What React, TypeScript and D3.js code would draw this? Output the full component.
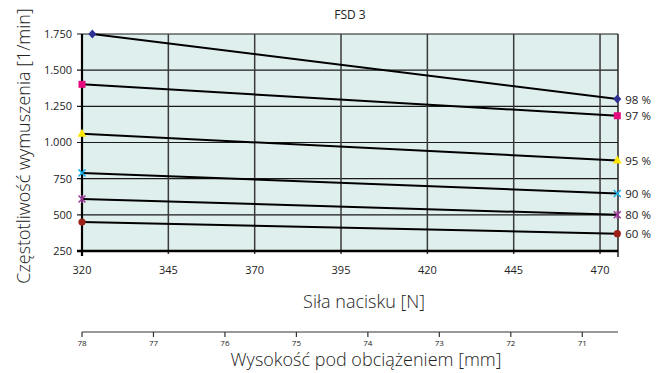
import React from "react";
import * as d3 from "d3";

const title = "FSD 3";
const forceTicks = [320, 345, 370, 395, 420, 445, 470];
const freqTicks = [250, 500, 750, 1000, 1250, 1500, 1750];
const heightTicks = [78, 77, 76, 75, 74, 73, 72, 71];

const seriesNames = ["98 %", "97 %", "95 %", "90 %", "80 %", "60 %"];
const seriesForces = [
  [323, 475],
  [320, 475],
  [320, 475],
  [320, 475],
  [320, 475],
  [320, 475],
];
const seriesValues = [
  [1750, 1300],
  [1402, 1185],
  [1060, 876],
  [790, 648],
  [610, 500],
  [450, 370],
];
const seriesColors = ["#2e3192", "#e5087e", "#ffe600", "#1ab0e8", "#9b3a98", "#9b2118"];
const seriesMarkers = ["diamond", "square", "triangle", "x", "asterisk", "circle"];

const FONT = "'Open Sans', 'Noto Sans', sans-serif";

function Marker({ kind, x, y, color }: { kind: string; x: number; y: number; color: string }) {
  if (kind === "diamond") {
    const p = d3.path();
    p.moveTo(x, y - 4.5); p.lineTo(x + 4, y); p.lineTo(x, y + 4.5); p.lineTo(x - 4, y); p.closePath();
    return <path d={p.toString()} fill={color} />;
  }
  if (kind === "square") return <rect x={x - 3.5} y={y - 3.5} width={7} height={7} fill={color} />;
  if (kind === "triangle") {
    const p = d3.path();
    p.moveTo(x, y - 5); p.lineTo(x + 4.5, y + 3); p.lineTo(x - 4.5, y + 3); p.closePath();
    return <path d={p.toString()} fill={color} />;
  }
  if (kind === "x") {
    return (
      <g stroke={color} strokeWidth={1.5}>
        <line x1={x - 3.5} y1={y - 3.5} x2={x + 3.5} y2={y + 3.5} />
        <line x1={x - 3.5} y1={y + 3.5} x2={x + 3.5} y2={y - 3.5} />
      </g>
    );
  }
  if (kind === "asterisk") {
    return (
      <g stroke={color} strokeWidth={1.5}>
        <line x1={x - 3.5} y1={y - 3.5} x2={x + 3.5} y2={y + 3.5} />
        <line x1={x - 3.5} y1={y + 3.5} x2={x + 3.5} y2={y - 3.5} />
        <line x1={x} y1={y - 4} x2={x} y2={y + 4} />
      </g>
    );
  }
  return <circle cx={x} cy={y} r={3.6} fill={color} />;
}

export default function App() {
  const W = 669, H = 373;
  const left = 82, right = 618, top = 34, bottom = 251;
  const x = d3.scaleLinear().domain([320, 475.2]).range([left, right]);
  const y = d3.scaleLinear().domain([250, 1750]).range([bottom, top]);
  const h = d3.scaleLinear().domain([78, 70.5]).range([left, right]);
  const fmt = (v: number) => (v >= 1000 ? d3.format(",")(v).replace(",", ".") : String(v));
  const line = d3.line<[number, number]>().x((d) => x(d[0])).y((d) => y(d[1]));
  const axisY2 = 332;

  return (
    <svg width={W} height={H} style={{ position: "absolute", left: 0, top: 0, fontFamily: FONT }}>
      <rect x={0} y={0} width={W} height={H} fill="#fff" />
      <text x={350} y={19} fontSize={12} textAnchor="middle" fill="#222">{title}</text>
      <rect x={left} y={top} width={right - left} height={bottom - top} fill="#dfefed" />
      {freqTicks.map((t) => (
        <line key={"hg" + t} x1={left - 5} x2={right} y1={y(t)} y2={y(t)} stroke="#1a1a1a" strokeWidth={1.2} />
      ))}
      {forceTicks.slice(1).map((t) => (
        <line key={"vg" + t} x1={x(t)} x2={x(t)} y1={top} y2={bottom + 3} stroke="#3a3a3a" strokeWidth={1.5} />
      ))}
      <line x1={right} x2={right} y1={top} y2={bottom + 6} stroke="#222" strokeWidth={1.5} />
      <line x1={left} x2={left} y1={top} y2={bottom + 5} stroke="#000" strokeWidth={2.2} />
      <line x1={left - 5} x2={right} y1={bottom} y2={bottom} stroke="#000" strokeWidth={2.5} />
      {freqTicks.map((t) => (
        <text key={"yl" + t} x={left - 10} y={y(t)} dy="0.35em" fontSize={11} textAnchor="end" fill="#222">
          {fmt(t)}
        </text>
      ))}
      {forceTicks.map((t) => (
        <text key={"xl" + t} x={x(t)} y={274} fontSize={11} textAnchor="middle" fill="#222">{t}</text>
      ))}
      {seriesValues.map((vals, i) => {
        const pts = seriesForces[i].map((f, j) => [f, vals[j]] as [number, number]);
        return (
          <g key={"s" + i}>
            <path d={line(pts) || ""} fill="none" stroke="#000" strokeWidth={2} />
            {pts.map((p, j) => (
              <Marker key={j} kind={seriesMarkers[i]} x={x(p[0])} y={y(p[1])} color={seriesColors[i]} />
            ))}
            <text x={x(pts[1][0]) + 8} y={y(pts[1][1])} dy="0.4em" fontSize={11.5} fill="#222">
              {seriesNames[i]}
            </text>
          </g>
        );
      })}
      <text x={364} y={308} fontSize={18} textAnchor="middle" fill="#222" fontWeight={300}>Siła nacisku [N]</text>
      <text transform={`translate(30,${146}) rotate(-90)`} fontSize={18} textAnchor="middle" fill="#222" fontWeight={300}>
        Częstotliwość wymuszenia [1/min]
      </text>
      <line x1={left} x2={right} y1={axisY2} y2={axisY2} stroke="#333" strokeWidth={1} />
      {heightTicks.map((t) => (
        <g key={"ht" + t}>
          <line x1={h(t)} x2={h(t)} y1={axisY2} y2={axisY2 + 5} stroke="#333" strokeWidth={1.2} />
          <text x={h(t)} y={346} fontSize={8} textAnchor="middle" fill="#222">{t}</text>
        </g>
      ))}
      <text x={366} y={366} fontSize={18} textAnchor="middle" fill="#222" fontWeight={300}>Wysokość pod obciążeniem [mm]</text>
    </svg>
  );
}
